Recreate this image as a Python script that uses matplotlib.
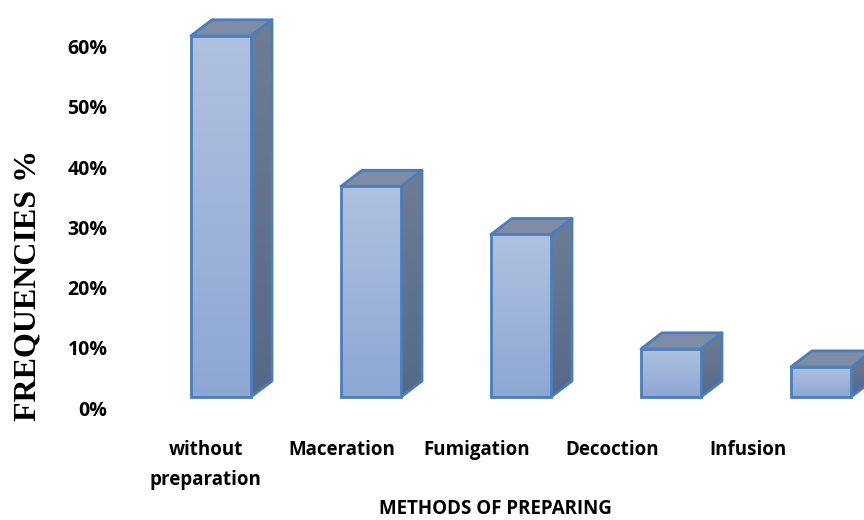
import numpy as np
import matplotlib.pyplot as plt
from matplotlib.patches import Polygon
from matplotlib.colors import LinearSegmentedColormap

methods = ["without\npreparation", "Maceration", "Fumigation", "Decoction", "Infusion"]
freq = [60, 35, 27, 8, 5]
yticks = [0, 10, 20, 30, 40, 50, 60]
ytick_labels = ["0%", "10%", "20%", "30%", "40%", "50%", "60%"]

plt.rcParams["font.family"] = ["Open Sans", "DejaVu Sans"]

W, H = 864, 520
fig = plt.figure(figsize=(W / 100, H / 100), dpi=100)

px_per_pct = 6.02
ymax = 65

# bars live on this axes (front faces)
ax = fig.add_axes([146 / W, (H - 397) / H, 750 / W, ymax * px_per_pct / H])
ax.set_xlim(-0.5, 4.5)
ax.set_ylim(0, ymax)
ax.axis("off")

# axis labels sit on a second frame, a bit lower and narrower
lab = fig.add_axes([138 / W, (H - 408) / H, 678 / W, ymax * px_per_pct / H])
lab.set_xlim(-0.5, 4.5)
lab.set_ylim(0, ymax)
lab.patch.set_visible(False)
for s in lab.spines.values():
    s.set_visible(False)
lab.set_yticks(yticks)
lab.set_yticklabels(ytick_labels, fontsize=14, fontweight="bold")
lab.set_xticks(range(len(methods)))
lab.set_xticklabels(methods, fontsize=13.5, fontweight="bold", linespacing=1.65)
lab.tick_params(axis="y", length=0, pad=22)
lab.tick_params(axis="x", length=0, pad=23)

fig.text(28 / W, 1 - 285 / H, "FREQUENCIES %", rotation=90, ha="center", va="center",
         fontsize=23, fontweight="bold", family=["Liberation Serif"])
fig.text(495 / W, 1 - 509 / H, "METHODS OF PREPARING", ha="center", va="center",
         fontsize=13.5, fontweight="bold")

width = 0.4
edge = "#4a7ebb"
# depth of the 3d boxes, in pixels
depth_x, depth_y = 21, 16
dx = depth_x / (750 / 5)
dy = depth_y / px_per_pct

grad = np.linspace(0, 1, 64).reshape(-1, 1)
front_cmap = LinearSegmentedColormap.from_list("front", ["#8da7d4", "#afc1df"])
side_cmap = LinearSegmentedColormap.from_list("side", ["#56698a", "#6f7d93"])

for i, v in enumerate(freq):
    x0, x1 = i - width / 2, i + width / 2
    # side face
    side = Polygon([(x1, 0), (x1 + dx, dy), (x1 + dx, v + dy), (x1, v)], closed=True,
                   facecolor="none", edgecolor=edge, lw=2, zorder=3, clip_on=False,
                   joinstyle="round")
    ax.add_patch(side)
    im = ax.imshow(grad, cmap=side_cmap, aspect="auto", origin="lower",
                   extent=(x1, x1 + dx, 0, v + dy), zorder=2)
    im.set_clip_path(side)
    # top face
    top = Polygon([(x0, v), (x0 + dx, v + dy), (x1 + dx, v + dy), (x1, v)], closed=True,
                  facecolor="#7e8da5", edgecolor=edge, lw=2, zorder=3, clip_on=False,
                  joinstyle="round")
    ax.add_patch(top)
    # front face with vertical gradient
    ax.imshow(grad, cmap=front_cmap, aspect="auto", origin="lower",
              extent=(x0, x1, 0, v), zorder=4, clip_on=False)
    ax.bar(i, v, width=width, facecolor="none", edgecolor=edge, lw=2, zorder=5,
           clip_on=False)

ax.set_xlim(-0.5, 4.5)
ax.set_ylim(0, ymax)

fig.savefig("out.png", dpi=100)
